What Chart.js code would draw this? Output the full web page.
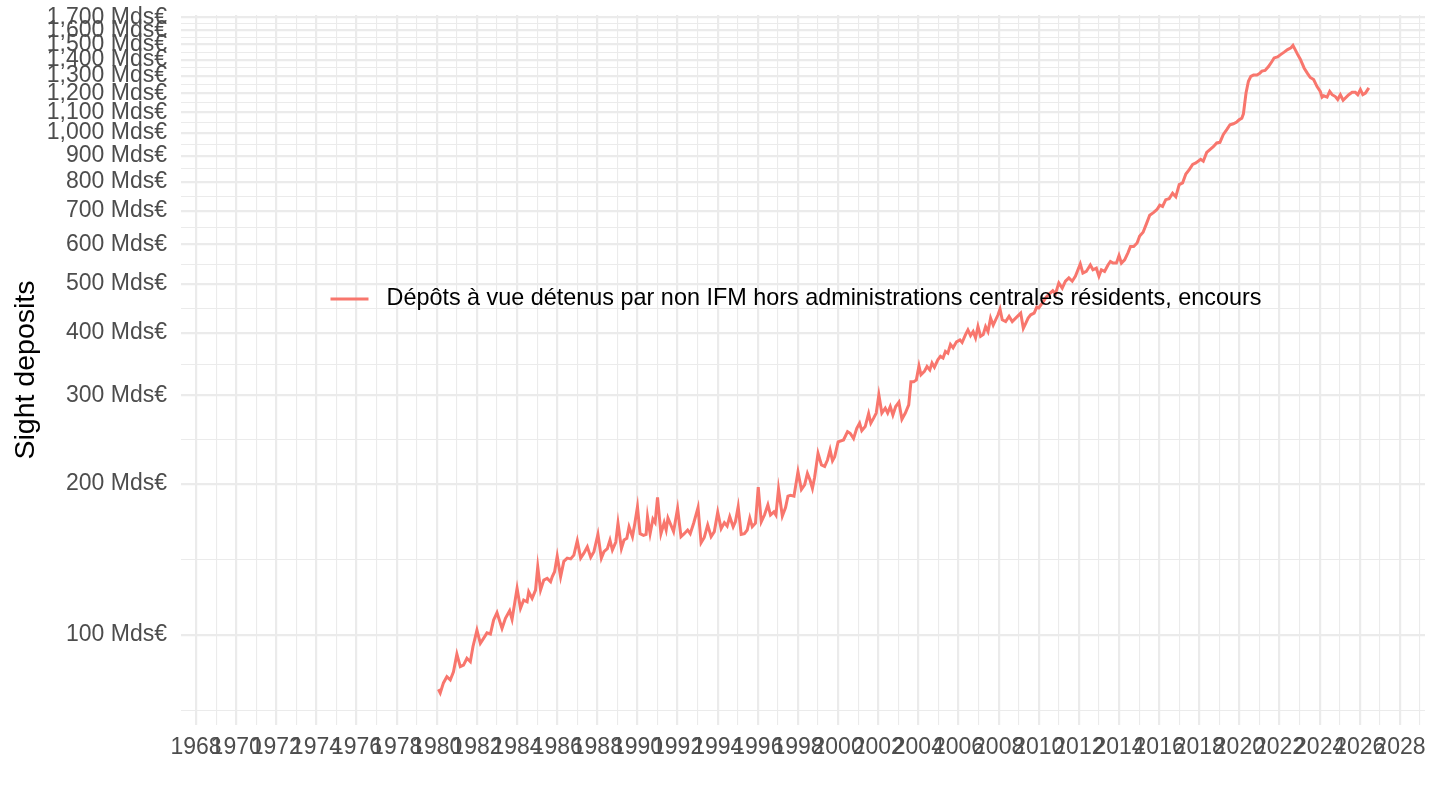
<!DOCTYPE html>
<html>
<head>
<meta charset="utf-8">
<script src="https://cdn.jsdelivr.net/npm/chart.js@4"></script>
<style>
  html, body { margin: 0; padding: 0; background: #fff; }
  canvas { display: block; }
</style>
</head>
<body>
<canvas id="chart" width="1440" height="810"></canvas>
<script>
// Dépôts à vue, encours (Mds€), dates en années décimales
const dates = [
  1980.08, 1980.17, 1980.33, 1980.50, 1980.67, 1980.83, 1981.00, 1981.17, 1981.33, 1981.50,
  1981.67, 1981.80, 1982.00, 1982.17, 1982.33, 1982.50, 1982.67, 1982.83, 1983.00, 1983.25,
  1983.42, 1983.63, 1983.75, 1984.00, 1984.17, 1984.33, 1984.50, 1984.58, 1984.75, 1984.92,
  1985.03, 1985.17, 1985.33, 1985.50, 1985.67, 1985.75, 1985.87, 1986.00, 1986.17, 1986.33,
  1986.50, 1986.67, 1986.83, 1987.00, 1987.17, 1987.33, 1987.50, 1987.67, 1987.83, 1988.03,
  1988.20, 1988.33, 1988.50, 1988.63, 1988.75, 1988.92, 1989.03, 1989.20, 1989.33, 1989.47,
  1989.58, 1989.75, 1989.87, 1990.00,
  1990.13, 1990.30, 1990.43, 1990.50, 1990.63, 1990.77, 1990.88, 1991.00, 1991.17, 1991.33,
  1991.43, 1991.52, 1991.63, 1991.80, 1992.00, 1992.17, 1992.33, 1992.50, 1992.63, 1992.80,
  1993.02, 1993.17, 1993.33, 1993.50, 1993.67, 1993.83, 1994.00, 1994.17, 1994.33, 1994.47,
  1994.60, 1994.77, 1994.88, 1995.02, 1995.17, 1995.33, 1995.47, 1995.60, 1995.72, 1995.88,
  1996.02, 1996.17, 1996.33, 1996.50, 1996.63, 1996.80, 1996.90, 1997.03, 1997.22, 1997.38,
  1997.50, 1997.63, 1997.80, 1998.00, 1998.17, 1998.33, 1998.47, 1998.60, 1998.72, 1998.83,
  1999.00, 1999.17, 1999.33, 1999.47, 1999.60, 1999.72, 1999.83, 2000.00,
  2000.27, 2000.47, 2000.60, 2000.77, 2000.93, 2001.07, 2001.18, 2001.35, 2001.52, 2001.63,
  2001.77, 2001.90, 2002.03, 2002.18, 2002.35, 2002.47, 2002.60, 2002.73, 2002.87, 2003.03,
  2003.18, 2003.35, 2003.52, 2003.63, 2003.77, 2003.90, 2004.03, 2004.13, 2004.30, 2004.43,
  2004.57, 2004.68, 2004.80, 2004.97, 2005.10, 2005.23, 2005.35, 2005.47, 2005.60, 2005.73,
  2005.90, 2006.07, 2006.18, 2006.35, 2006.47, 2006.60, 2006.73, 2006.85, 2006.97, 2007.10,
  2007.23, 2007.35, 2007.47, 2007.60, 2007.73, 2007.97, 2008.07, 2008.18, 2008.35, 2008.52,
  2008.68, 2008.85, 2009.10, 2009.23, 2009.35, 2009.47, 2009.60, 2009.77, 2009.90,
  2010.00, 2010.20, 2010.37, 2010.53, 2010.70, 2010.83, 2011.00, 2011.17, 2011.33, 2011.50,
  2011.67, 2011.83, 2012.07, 2012.20, 2012.37, 2012.57, 2012.70, 2012.87, 2013.00, 2013.12,
  2013.28, 2013.45, 2013.57, 2013.70, 2013.87, 2014.00, 2014.12, 2014.28, 2014.45, 2014.57,
  2014.73, 2014.90, 2015.03, 2015.20, 2015.37, 2015.53, 2015.73, 2015.90, 2016.03, 2016.17,
  2016.33, 2016.50, 2016.67, 2016.83, 2017.00, 2017.17, 2017.33, 2017.50, 2017.67, 2017.83,
  2018.07, 2018.20, 2018.37, 2018.53, 2018.70, 2018.87, 2019.03, 2019.20, 2019.37, 2019.53,
  2019.70, 2019.87, 2020.00, 2020.12,
  2020.20, 2020.33, 2020.45, 2020.57, 2020.70, 2020.87, 2021.00, 2021.12, 2021.28, 2021.45,
  2021.62, 2021.73, 2021.90, 2022.07, 2022.23, 2022.40, 2022.57, 2022.67, 2022.78, 2022.90,
  2023.03, 2023.23, 2023.40, 2023.53, 2023.70, 2023.87, 2024.03, 2024.12, 2024.20, 2024.37,
  2024.50, 2024.62, 2024.78, 2024.90, 2025.03, 2025.17, 2025.45, 2025.62, 2025.78, 2025.90,
  2026.03, 2026.15, 2026.28, 2026.45
];

const deposits = [
  78.0, 76.7, 80.3, 82.6, 81.4, 84.5, 91.6, 86.5, 87.1, 89.9,
  88.5, 94.8, 102.3, 96.3, 98.5, 101.0, 100.5, 107.1, 110.8, 103.1,
  108.0, 111.8, 107.5, 123.9, 113.0, 117.4, 116.5, 122.0, 118.3, 122.9,
  136.8, 122.9, 128.7, 129.7, 127.7, 130.6, 133.7, 143.6, 130.6, 140.2,
  142.3, 141.8, 144.3, 154.1, 142.3, 145.6, 149.9, 142.9, 146.6, 158.7,
  142.3, 146.6, 148.7, 154.6, 147.7, 153.2, 167.0, 148.7, 154.6, 155.9,
  164.3, 157.0, 167.0, 180.1,
  159.2, 158.0, 158.7, 172.1, 159.2, 170.2, 167.5, 188.0, 159.2, 167.5,
  161.9, 171.1, 167.0, 160.7, 178.6, 157.0, 159.2, 161.9, 159.2, 167.0,
  179.5, 152.7, 156.5, 165.7, 157.0, 160.7, 175.7, 162.9, 167.5, 164.9,
  172.1, 164.3, 168.1, 180.1, 158.7, 159.2, 161.9, 171.1, 164.3, 167.0,
  197.0, 168.1, 173.4, 181.7, 173.4, 175.9, 173.4, 195.4, 172.7, 179.5,
  189.1, 189.9, 189.1, 211.5, 194.9, 199.1, 209.9, 203.6, 195.9, 206.2,
  230.2, 218.3, 216.7, 223.2, 233.7, 222.4, 226.6, 242.6,
  244.7, 254.2, 252.3, 246.4, 258.1, 264.2, 255.4, 260.2, 276.1, 264.2,
  270.4, 276.8, 301.0, 276.8, 283.1, 276.8, 285.2, 274.3, 285.2, 290.9,
  269.1, 276.8, 287.4, 319.7, 319.7, 322.3, 343.7, 330.0, 335.1, 342.7,
  337.4, 348.4, 341.7, 353.3, 359.0, 356.3, 367.2, 364.4, 379.2, 373.5,
  383.7, 387.2, 382.6, 396.6, 405.4, 394.8, 402.3, 390.6, 411.6, 393.4,
  396.6, 411.6, 402.3, 427.8, 414.2, 434.4, 445.8, 424.5, 421.1, 431.3,
  421.1, 427.8, 437.8, 408.2, 417.8, 427.8, 434.4, 437.8, 450.1,
  448.2, 460.0, 470.8, 478.1, 485.2, 478.1, 502.8, 491.0, 506.7, 514.6,
  506.7, 518.6, 548.6, 525.8, 530.0, 546.0, 534.0, 538.0, 518.6, 534.0,
  530.0, 546.0, 554.8, 550.6, 550.6, 570.1, 550.6, 559.1, 577.8, 593.9,
  593.9, 603.7, 623.3, 634.5, 660.0, 685.7, 694.7, 704.9, 718.0, 714.0,
  736.5, 740.0, 758.7, 746.4, 789.1, 795.5, 828.6, 845.3, 866.1, 871.5,
  886.2, 878.7, 914.8, 926.5, 939.0, 955.3, 958.1, 993.5, 1015.7, 1038.6,
  1043, 1052, 1063.4, 1070,
  1092, 1201, 1268, 1297, 1304, 1304, 1313, 1328, 1332, 1356,
  1388, 1411, 1418, 1434, 1449, 1466, 1478, 1494, 1466, 1434,
  1404, 1346, 1313, 1290, 1278, 1237, 1210, 1179, 1186, 1179,
  1210, 1192, 1182, 1166, 1192, 1162, 1192, 1205, 1205, 1192,
  1220, 1192, 1201, 1230
];

const seriesName = 'Dépôts à vue détenus par non IFM hors administrations centrales résidents, encours';

// Graduations
const yearLabels = [1968, 1970, 1972, 1974, 1976, 1978, 1980, 1982, 1984, 1986, 1988, 1990,
  1992, 1994, 1996, 1998, 2000, 2002, 2004, 2006, 2008, 2010, 2012, 2014, 2016, 2018, 2020,
  2022, 2024, 2026, 2028];
const depositTicks = [100, 200, 300, 400, 500, 600, 700, 800, 900, 1000, 1100, 1200, 1300,
  1400, 1500, 1600, 1700];

const FONT = '"Liberation Sans", Arial, Helvetica, sans-serif';
const GRID = '#EBEBEB';
const LINE = '#F8766D';

// grilles secondaires : années impaires, milieux géométriques en y
const yearMinor = yearLabels.map(y => y + 1);
const depositMinor = [Math.sqrt(depositTicks[0] * depositTicks[0] / 2)];
for (let i = 1; i < depositTicks.length; i++) {
    depositMinor.push(Math.sqrt(depositTicks[i - 1] * depositTicks[i]));
}
const yMajorSet = new Set(depositTicks);
const xMajorSet = new Set(yearLabels);

// Légende posée dans le panneau (comme ggplot legend.position = c(0.5, 0.6))
const legendInPanel = {
    id: 'legendInPanel',
    afterDraw(chart) {
        const { ctx, chartArea } = chart;
        ctx.save();
        ctx.font = '23.4px ' + FONT;
        const keyW = 38, gap = 18;
        const textW = ctx.measureText(seriesName).width;
        const total = keyW + gap + textW;
        const cx = chartArea.left + chartArea.width * 0.5;
        const cy = chartArea.bottom - chartArea.height * 0.6;
        const x0 = cx - total / 2 - 7;
        ctx.strokeStyle = LINE;
        ctx.lineWidth = 3;
        ctx.beginPath();
        ctx.moveTo(x0, cy);
        ctx.lineTo(x0 + keyW, cy);
        ctx.stroke();
        ctx.fillStyle = '#000';
        ctx.textBaseline = 'middle';
        ctx.textAlign = 'left';
        ctx.fillText(seriesName, x0 + keyW + gap, cy);
        ctx.restore();
    }
};

new Chart(document.getElementById('chart'), {
    type: 'line',
    data: {
        datasets: [{
            label: seriesName,
            data: dates.map((d, i) => ({ x: d, y: deposits[i] })),
            borderColor: LINE,
            borderWidth: 3,
            pointRadius: 0,
            tension: 0,
            fill: false
        }]
    },
    options: {
        responsive: false,
        animation: false,
        layout: { padding: { top: 15, right: 15, left: 0, bottom: 0 } },
        plugins: {
            legend: { display: false },
            tooltip: { enabled: false }
        },
        scales: {
            x: {
                type: 'linear',
                min: 1967.25,
                max: 2029.25,
                afterBuildTicks: (scale) => {
                    scale.ticks = yearLabels.concat(yearMinor)
                        .sort((a, b) => a - b)
                        .map(v => ({ value: v }));
                },
                afterFit: (scale) => {
                    scale.height = 85;
                    scale.paddingLeft = 0;
                    scale.paddingRight = 0;
                },
                ticks: {
                    autoSkip: false,
                    maxRotation: 0,
                    minRotation: 0,
                    padding: 9,
                    color: '#4D4D4D',
                    font: { family: FONT, size: 23 },
                    callback: (v) => xMajorSet.has(v) ? String(v) : ''
                },
                grid: {
                    color: GRID,
                    lineWidth: (ctx) => xMajorSet.has(ctx.tick && ctx.tick.value) ? 2.2 : 1.1,
                    drawTicks: false
                },
                border: { display: false }
            },
            y: {
                type: 'logarithmic',
                min: 66.2,
                max: 1718,
                afterBuildTicks: (scale) => {
                    scale.ticks = depositTicks.concat(depositMinor)
                        .sort((a, b) => a - b)
                        .map(v => ({ value: v }));
                },
                afterFit: (scale) => {
                    // les étiquettes du haut peuvent déborder, comme dans ggplot
                    scale.width = 181;
                    scale.paddingTop = 0;
                    scale.paddingBottom = 0;
                },
                title: {
                    display: true,
                    text: 'Sight deposits',
                    color: '#000',
                    font: { family: FONT, size: 28.5 },
                    padding: { top: 9, bottom: 0 }
                },
                ticks: {
                    autoSkip: false,
                    padding: 14,
                    color: '#4D4D4D',
                    font: { family: FONT, size: 23 },
                    callback: (v) => yMajorSet.has(v) ? v.toLocaleString('en-US') + ' Mds€' : ''
                },
                grid: {
                    color: GRID,
                    lineWidth: (ctx) => yMajorSet.has(ctx.tick && ctx.tick.value) ? 2.2 : 1.1,
                    drawTicks: false
                },
                border: { display: false }
            }
        }
    },
    plugins: [legendInPanel]
});
</script>
</body>
</html>
